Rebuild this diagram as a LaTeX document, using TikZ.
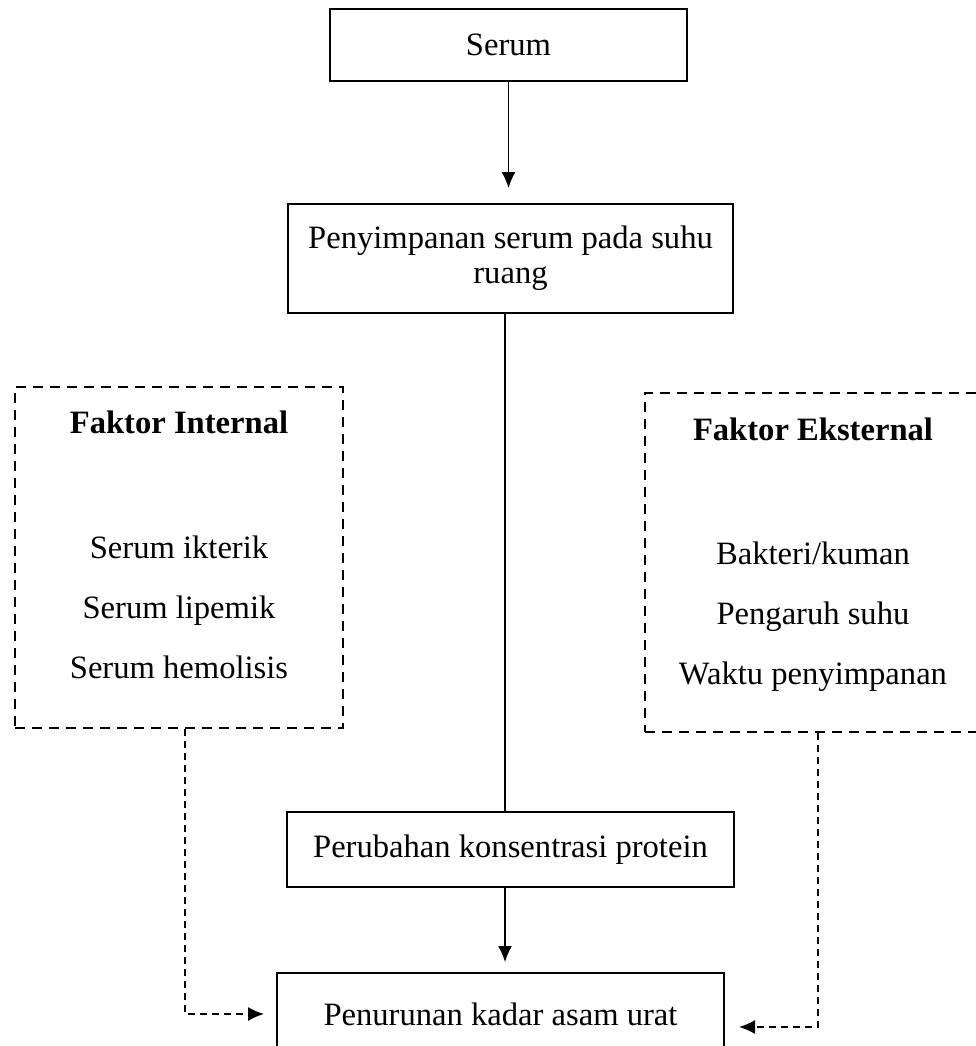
\documentclass[tikz,border=0pt]{standalone}
\usepackage{fontspec}
\setmainfont{Liberation Serif}
\usetikzlibrary{arrows.meta}
\begin{document}
\begin{tikzpicture}[
    x=0.5pt, y=-0.5pt,
    every node/.style={align=center, font=\fontsize{16.3}{17.5}\selectfont},
    solid box/.style={draw, line width=1pt, inner sep=0pt},
    dashed box/.style={draw, line width=1pt, dash pattern=on 5pt off 3.5pt, inner sep=0pt},
    item list/.style={inner sep=0pt, font=\fontsize{16.3}{30}\selectfont},
    flow arrow/.style={draw, line width=0.65pt, -{Latex[length=8pt,width=7pt]}},
    dashed arrow/.style={draw, line width=0.75pt, dash pattern=on 3.5pt off 2.5pt, -{Latex[length=8pt,width=7pt]}},
    ]
\useasboundingbox (0,0) rectangle (976,1046);
\node[solid box, minimum width=178.5pt, minimum height=36pt] (serum) at (508.5,45) {Serum};
\node[solid box, minimum width=222.5pt, minimum height=54.5pt] (storage) at (510.5,258.5) {Penyimpanan serum pada suhu\\ruang};
\node[solid box, minimum width=223.5pt, minimum height=37.5pt] (protein) at (510.5,849.5) {Perubahan konsentrasi protein};
\node[solid box, minimum width=223.5pt, minimum height=41pt] (uricacid) at (500.5,1014) {Penurunan kadar asam urat};
\node[dashed box, minimum width=164pt, minimum height=170.5pt] (internal) at (179,557.5) {};
\node[anchor=base, inner sep=0pt] (internalT) at (179,433) {\textbf{Faktor Internal}};
\node[item list, anchor=north] (internalL) at (179,535) {Serum ikterik\\Serum lipemik\\Serum hemolisis};
\node[dashed box, minimum width=168pt, minimum height=169.5pt] (external) at (813,562.5) {};
\node[anchor=base, inner sep=0pt] (externalT) at (813,440) {\textbf{Faktor Eksternal}};
\node[item list, anchor=north] (externalL) at (813,541) {Bakteri/kuman\\Pengaruh suhu\\Waktu penyimpanan};
\draw[flow arrow, shorten >=7.5pt] (serum.south) -- (serum.south |- storage.north);
\draw[line width=0.65pt] ([xshift=-2.75pt]storage.south) -- ([xshift=-2.75pt]storage.south |- protein.north);
\draw[flow arrow, shorten >=5pt] ([xshift=-2.75pt]protein.south) -- ([xshift=-2.75pt]protein.south |- uricacid.north);
\draw[dashed arrow, shorten >=6pt] ([xshift=3pt]internal.south) |- (uricacid.west);
\draw[dashed arrow, shorten >=7pt] ([xshift=2.5pt]external.south) |- ([yshift=-6.5pt]uricacid.east);
\end{tikzpicture}
\end{document}
